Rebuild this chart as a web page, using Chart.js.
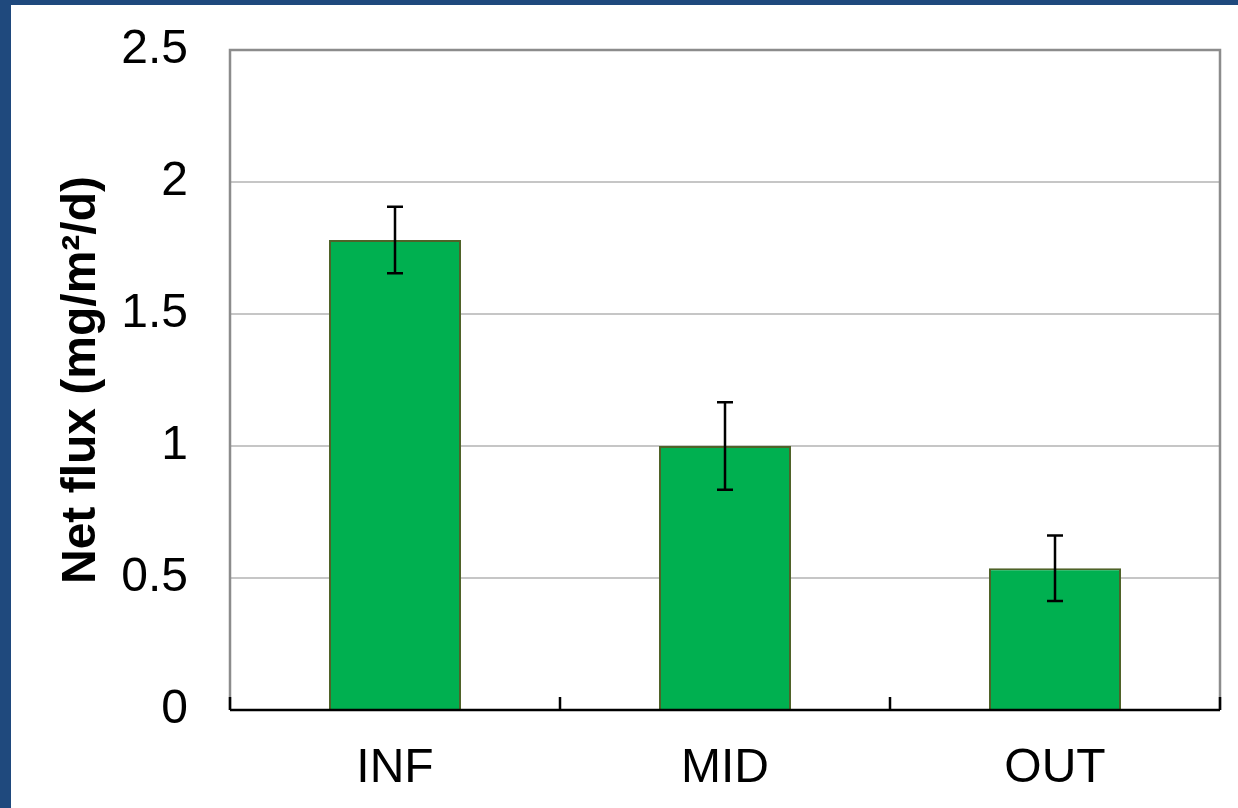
<!DOCTYPE html>
<html>
<head>
<meta charset="utf-8">
<script src="https://cdn.jsdelivr.net/npm/chart.js@4"></script>
<style>
  html, body { margin: 0; padding: 0; background: #fff; }
  #wrap {
    position: absolute; left: 0; top: 0;
    width: 1238px; height: 808px; box-sizing: border-box;
    border-left: 11px solid #1F497D; border-top: 5px solid #1F497D;
    background: #fff;
  }
  #c { display: block; }
</style>
</head>
<body>
<div id="wrap"><canvas id="c" width="1227" height="803"></canvas></div>
<script>
var sites = ['INF', 'MID', 'OUT'];
var netFlux = [1.78, 1.00, 0.537];
var fluxErr = [0.126, 0.166, 0.124];
var yTicks = [0, 0.5, 1, 1.5, 2, 2.5];

var fontFamily = '"Liberation Sans", Arial, sans-serif';

var errorBars = {
    id: 'errorBars',
    afterDatasetsDraw: function(chart) {
        var ctx = chart.ctx;
        var x = chart.scales.x, y = chart.scales.y;
        ctx.save();
        ctx.strokeStyle = '#000';
        ctx.lineWidth = 2.5;
        netFlux.forEach(function(v, i) {
            var px = x.getPixelForValue(i);
            var hi = y.getPixelForValue(v + fluxErr[i]);
            var lo = y.getPixelForValue(v - fluxErr[i]);
            ctx.beginPath();
            ctx.moveTo(px, hi); ctx.lineTo(px, lo);
            ctx.moveTo(px - 8, hi); ctx.lineTo(px + 8, hi);
            ctx.moveTo(px - 8, lo); ctx.lineTo(px + 8, lo);
            ctx.stroke();
        });
        ctx.restore();
    }
};

var frame = {
    id: 'frame',
    beforeDatasetsDraw: function(chart) {
        var ctx = chart.ctx, a = chart.chartArea;
        ctx.save();
        ctx.strokeStyle = '#8c8c8c';
        ctx.lineWidth = 2.5;
        ctx.beginPath();
        ctx.moveTo(a.left, a.bottom); ctx.lineTo(a.left, a.top);
        ctx.lineTo(a.right, a.top); ctx.lineTo(a.right, a.bottom);
        ctx.stroke();
        ctx.restore();
    },
    afterDatasetsDraw: function(chart) {
        var ctx = chart.ctx, a = chart.chartArea;
        var n = sites.length;
        ctx.save();
        ctx.strokeStyle = '#000';
        ctx.lineWidth = 2.5;
        ctx.beginPath();
        ctx.moveTo(a.left, a.bottom); ctx.lineTo(a.right, a.bottom);
        for (var i = 0; i <= n; i++) {
            var px = a.left + i * (a.right - a.left) / n;
            ctx.moveTo(px, a.bottom); ctx.lineTo(px, a.bottom - 13);
        }
        ctx.stroke();
        ctx.restore();
    }
};

new Chart(document.getElementById('c').getContext('2d'), {
    type: 'bar',
    data: {
        labels: sites,
        datasets: [{
            data: netFlux,
            backgroundColor: '#00B050',
            borderColor: '#4F6228',
            borderWidth: 2,
            barPercentage: 0.4,
            categoryPercentage: 1.0
        }]
    },
    options: {
        responsive: false,
        animation: false,
        layout: { padding: { left: 0, right: 18, top: 45, bottom: 0 } },
        plugins: {
            legend: { display: false },
            tooltip: { enabled: false }
        },
        scales: {
            x: {
                grid: { display: false },
                border: { display: false },
                ticks: {
                    color: '#000',
                    padding: 22,
                    font: { family: fontFamily, size: 48 }
                },
                afterFit: function(s) { s.height = 98; }
            },
            y: {
                min: 0,
                max: 2.5,
                afterBuildTicks: function(s) {
                    s.ticks = yTicks.map(function(v) { return { value: v }; });
                },
                grid: { color: '#c6c6c6', lineWidth: 2, drawTicks: false },
                border: { display: false },
                ticks: {
                    color: '#000',
                    padding: 42,
                    font: { family: fontFamily, size: 48 },
                    callback: function(v) { return String(v); }
                },
                title: {
                    display: true,
                    text: 'Net flux (mg/m\u00B2/d)',
                    color: '#000',
                    padding: { top: 42, bottom: 0 },
                    font: { family: fontFamily, size: 48, weight: 'bold' }
                },
                afterFit: function(s) {
                    s.width = 219;
                    s.paddingTop = 0;
                    s.paddingBottom = 0;
                }
            }
        }
    },
    plugins: [frame, errorBars]
});
</script>
</body>
</html>
